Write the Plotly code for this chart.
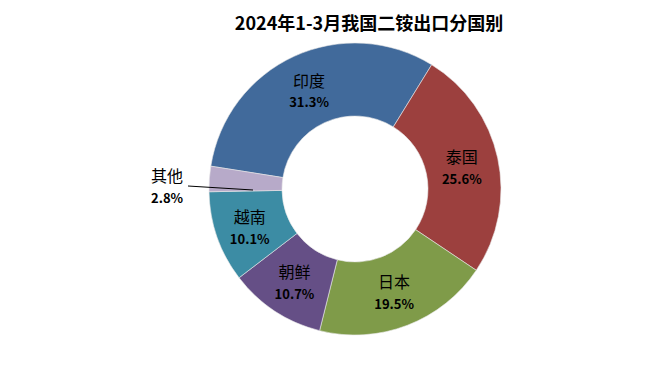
import plotly.graph_objects as go

countries = ["印度", "泰国", "日本", "朝鲜", "越南", "其他"]
shares = [31.3, 25.6, 19.5, 10.7, 10.1, 2.8]
colors = ["#416A9B", "#9C403E", "#7F9B49", "#654F86", "#3C8CA4", "#B7AAC9"]
title_text = "2024年1-3月我国二铵出口分国别"

W, H = 659, 378
cx, cy, R = 347, 181, 146


def label_html(name, val):
    return f"{name}<br><span style='font-size:13px'><b>{val:.1f}%</b></span>"


texts = [label_html(c, v) if c != "其他" else "" for c, v in zip(countries, shares)]

fig = go.Figure(go.Pie(
    labels=countries,
    values=shares,
    text=texts,
    textinfo="text",
    hole=0.5,
    sort=False,
    direction="clockwise",
    rotation=-81,
    marker=dict(colors=colors, line=dict(color="#E8E8E8", width=0.6)),
    textposition="inside",
    insidetextorientation="horizontal",
    textfont=dict(family="Noto Sans CJK SC, Liberation Sans", size=16, color="black"),
    domain=dict(x=[(cx - R) / W, (cx + R) / W], y=[1 - (cy + R) / H, 1 - (cy - R) / H]),
    showlegend=False,
))

fig.add_annotation(
    x=159 / W, y=1 - 177 / H, xref="paper", yref="paper",
    text=label_html(countries[-1], shares[-1]),
    showarrow=False, xanchor="center", yanchor="middle",
    font=dict(family="Noto Sans CJK SC, Liberation Sans", size=16, color="black"),
)
fig.add_shape(type="line", xref="paper", yref="paper",
              x0=180 / W, y0=1 - 178 / H, x1=245 / W, y1=1 - 182 / H,
              line=dict(color="black", width=1))

fig.update_layout(
    width=W, height=H,
    margin=dict(l=0, r=0, t=0, b=0),
    paper_bgcolor="white", plot_bgcolor="white",
    title=dict(text=f"<b>{title_text}</b>", x=361 / W, xanchor="center", y=1 - 16 / H, yanchor="middle",
               font=dict(family="Noto Sans CJK SC", size=18, color="black")),
)

fig.write_html("out.html")
